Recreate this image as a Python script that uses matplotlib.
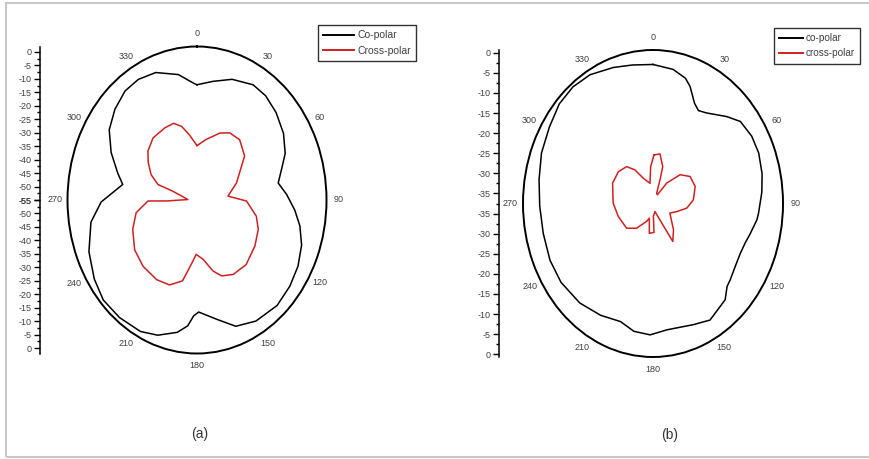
import numpy as np
import matplotlib
matplotlib.use("Agg")
import matplotlib.pyplot as plt
from matplotlib.patches import Rectangle
from matplotlib.lines import Line2D
from matplotlib.ticker import MultipleLocator

plt.rcParams['font.family'] = ['Liberation Sans Narrow', 'Liberation Sans', 'DejaVu Sans']

# ---- data (angle in deg, clockwise from top; level in dB) ----
# (a)
a_co_ang = [0, 9, 19, 30, 38, 47, 57, 66, 73, 80, 87, 95, 102, 110, 119, 128, 138, 150,
            160, 169, 179, 182, 185, 190, 199, 207, 218, 228, 237, 248, 260, 269, 280, 286,
            295, 304, 313, 322, 330, 339, 350, 358]
a_co_val = [-12.2, -10.4, -7.6, -5.6, -5.9, -7.4, -9.6, -12.5, -16.1, -18.7, -15.5, -11.8,
            -8.7, -6.0, -4.2, -3.1, -2.3, -3.1, -5.1, -9.9, -13.4, -11.9, -8.1, -5.1, -1.9,
            -0.2, 0.4, 0.5, -1.1, -3.7, -7.6, -12.8, -21.8, -18.7, -13.3, -8.4, -5.6, -3.6,
            -3.3, -4.3, -7.7, -11.6]
a_x_ang = [0, 10, 22, 30, 40, 52, 70, 84, 91, 103, 112, 124, 138, 150, 159, 165, 173, 181,
           186, 192, 201, 211, 224, 236, 249, 260, 269, 268.5, 272.5, 287, 288.5, 295, 303,
           310, 320, 332, 340, 346, 352]
a_x_val = [-34.8, -32.2, -28.2, -26.2, -25.8, -28.4, -36.5, -41.3, -33.2, -28.2, -25.9,
           -24.3, -22.7, -23.1, -24.8, -27.7, -32.8, -34.8, -31.0, -24.3, -21.2, -20.5,
           -20.8, -21.9, -24.7, -27.8, -33.4, -42.0, -51.0, -43.9, -36.9, -32.7, -29.4,
           -26.8, -24.9, -24.7, -24.7, -26.8, -30.5]

# (b)
b_co_ang = [0, 10, 17, 20.5, 26, 30, 35, 45, 51.5, 60, 68, 77, 85, 94.5, 97.6, 105, 110,
            116, 123, 130, 133.5, 138.5, 142, 150, 158.5, 172.5, 181.5, 190, 198, 209, 221,
            234, 245, 257, 269, 280, 291, 302, 312, 321, 330, 341, 350]
b_co_val = [-2.9, -3.6, -4.9, -6.4, -9.7, -10.8, -10.0, -6.9, -4.7, -4.0, -4.0, -4.6, -5.4,
            -6.4, -6.7, -8.0, -8.7, -9.0, -8.7, -7.9, -7.5, -5.5, -5.2, -4.0, -5.1, -5.8,
            -4.8, -5.2, -6.6, -5.7, -4.7, -4.1, -4.1, -4.4, -4.2, -3.5, -2.4, -1.6, -0.45,
            -0.14, -0.5, -1.7, -2.5]
b_x_ang = [1.4, 9.5, 17.3, 19.3, 22.7, 30.5, 38.5, 48, 58.3, 71.1, 85.6, 96.6, 105.9, 115.7,
           137.4, 148.4, 164, 178, 177.6, 188.3, 196.4, 202.7, 218, 231.6, 252.4, 270.4,
           293, 307.9, 319.9, 327.6, 335.6, 350, 355.7]
b_x_val = [-25.4, -25.0, -27.9, -31.3, -34.7, -35.0, -31.0, -26.8, -24.7, -24.4, -25.6,
           -27.5, -30.2, -32.0, -28.6, -26.4, -35.4, -34.3, -30.3, -30.0, -33.7, -32.7,
           -29.7, -27.6, -26.8, -25.8, -24.6, -24.6, -25.5, -27.6, -30.6, -32.4, -28.3]

theta_labels = ['0', '30', '60', '90', '120', '150', '180', '210', '240', '270', '300', '330']
a_rticks = [0, -5, -10, -15, -20, -25, -30, -35, -40, -45, -50, -55]
b_rticks = [0, -5, -10, -15, -20, -25, -30, -35]
a_names = ['Co-polar', 'Cross-polar']
b_names = ['co-polar', 'cross-polar']

W, H = 869, 459
fig = plt.figure(figsize=(W / 100, H / 100), dpi=100)
RED = '#d02020'
TXT = '#404040'


def px(x0, y0, x1, y1):
    return [x0 / W, 1 - y1 / H, (x1 - x0) / W, (y1 - y0) / H]


def closed(a, v):
    return np.radians(a + [a[0] + 360]), v + [v[0]]


def panel(box, axis_x, rmin, rmax, rticks, co, cross, names, leg_xy, leg_fs, hlen,
          tag, tag_xy):
    ax = fig.add_axes(px(*box), projection='polar')
    ax.set_aspect('auto')
    ax.set_theta_zero_location('N')
    ax.set_theta_direction(-1)
    t, r = closed(*co)
    ax.plot(t, r, color='black', lw=1.1)
    t, r = closed(*cross)
    ax.plot(t, r, color=RED, lw=1.1)
    ax.set_ylim(rmin, rmax)
    ax.set_yticks([])
    ax.grid(False)
    ax.set_xticks(np.radians(np.arange(0, 360, 30)))
    ax.set_xticklabels(theta_labels, fontsize=6.5, color=TXT)
    ax.tick_params(axis='x', direction='in', length=4, width=1, pad=2)
    ax.spines['polar'].set_linewidth(1.4)

    # separate radial scale at the left, 0 at both ends, rmin at the centre
    R = rmax - rmin
    sc = fig.add_axes(px(axis_x, box[1], axis_x + 1, box[3]))
    sc.set_facecolor('none')
    for s in ['top', 'right', 'bottom']:
        sc.spines[s].set_visible(False)
    sc.spines['left'].set_linewidth(1.1)
    sc.set_xticks([])
    sc.set_ylim(-R, R)
    pos = [v - rmin for v in rticks] + [-(v - rmin) for v in rticks]
    sc.set_yticks(pos)
    sc.set_yticklabels([str(v) for v in rticks] * 2, fontsize=6.5, color=TXT)
    sc.yaxis.set_minor_locator(MultipleLocator(2.5))
    sc.tick_params(axis='y', which='major', length=4, width=1, pad=2)
    sc.tick_params(axis='y', which='minor', length=2, width=1)

    handles = [Line2D([], [], color='black', lw=1.4), Line2D([], [], color=RED, lw=1.4)]
    leg = fig.legend(handles, names, loc='upper left',
                     bbox_to_anchor=(leg_xy[0] / W, 1 - leg_xy[1] / H),
                     fontsize=leg_fs, frameon=True, fancybox=False, edgecolor='black',
                     handlelength=hlen, borderpad=0.5, labelspacing=0.55,
                     handletextpad=0.3, borderaxespad=0)
    leg.get_frame().set_linewidth(1.0)
    for txt in leg.get_texts():
        txt.set_color(TXT)

    fig.text(tag_xy[0] / W, 1 - tag_xy[1] / H, tag, fontsize=10, color='#333333',
             ha='center', va='center')


panel((67.5, 46.5, 326.5, 353.5), 40, -55, 2, a_rticks,
      (a_co_ang, a_co_val), (a_x_ang, a_x_val), a_names, (318, 25), 7.5, 3.0,
      '(a)', (200, 434))
panel((523, 50, 783, 357), 499, -37.5, 0.7, b_rticks,
      (b_co_ang, b_co_val), (b_x_ang, b_x_val), b_names, (774, 28), 7.2, 2.4,
      '(b)', (670, 435))

# light grey frame round the figure
fig.patches.append(Rectangle((6 / W, 1 - 457 / H), (W + 10) / W, 454 / H,
                             transform=fig.transFigure, fill=False,
                             edgecolor='#c8c8c8', lw=1.5))

fig.savefig('out.png', dpi=100)
